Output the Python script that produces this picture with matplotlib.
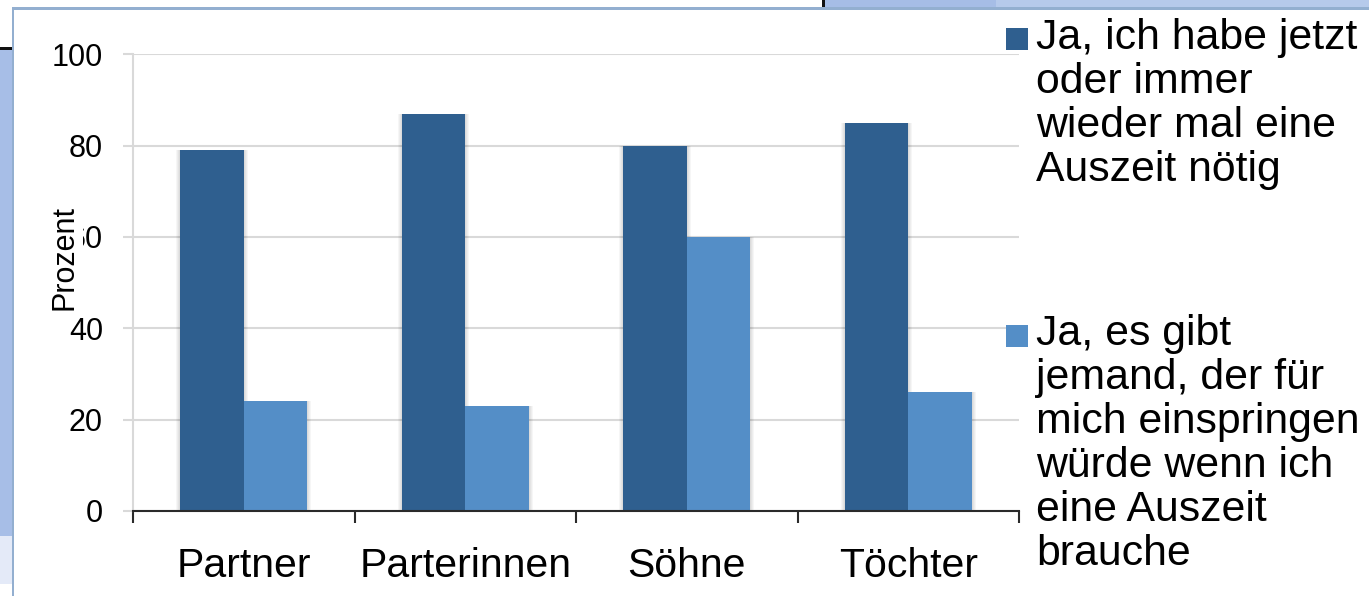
import matplotlib
matplotlib.use('Agg')
import matplotlib.pyplot as plt
from matplotlib.patches import Rectangle
import numpy as np

# Daten
categories = ['Partner', 'Parterinnen', 'Söhne', 'Töchter']
auszeit_noetig = [79, 87, 80, 85]
einspringen = [24, 23, 60, 26]
series_labels = ['Ja, ich habe jetzt\noder immer\nwieder mal eine\nAuszeit nötig',
                 'Ja, es gibt\njemand, der für\nmich einspringen\nwürde wenn ich\neine Auszeit\nbrauche']
yticks = [0, 20, 40, 60, 80, 100]

dark = '#2f5f8f'
light = '#548ec7'

W, H = 1369, 596
plt.rcParams['font.family'] = ['Liberation Sans', 'DejaVu Sans']

fig = plt.figure(figsize=(W / 100, H / 100), dpi=100)
fig.patch.set_facecolor('white')


def px_rect(x0, y0, x1, y1, color, z=0):
    # Rechteck in Pixelkoordinaten (y von oben)
    r = Rectangle((x0 / W, 1 - y1 / H), (x1 - x0) / W, (y1 - y0) / H,
                  transform=fig.transFigure, facecolor=color, edgecolor='none', zorder=z)
    fig.add_artist(r)


# Folienhintergrund am Rand
px_rect(0, 49, 12.5, 536, '#a7bee7')
px_rect(0, 536, 12.5, 584, '#e4eaf8')
px_rect(0, 47.5, 13, 49.5, '#111111')
px_rect(825, 0, 996, 8, '#a6bde6')
px_rect(996, 0, W, 8, '#b6caeb')
px_rect(822, 0, 824.5, 8, '#111111')
px_rect(12.5, 7.5, 14.5, H, '#93afd0')
px_rect(12.5, 7.5, W, 9.5, '#93afd0')

ax = fig.add_axes([133 / W, 1 - 511 / H, 886 / W, 456.7 / H])
x = np.arange(len(categories))
w = 0.287

# leichter Schatten hinter den Balken
for k in range(1, 5):
    ax.bar(x - w / 2, auszeit_noetig, width=w + k * 0.0045 * 2, color='black',
           alpha=0.035, zorder=1.5, linewidth=0)
    ax.bar(x + w / 2, einspringen, width=w + k * 0.0045 * 2, color='black',
           alpha=0.035, zorder=1.5, linewidth=0)

ax.bar(x - w / 2, auszeit_noetig, width=w, color=dark, zorder=2, linewidth=0)
ax.bar(x + w / 2, einspringen, width=w, color=light, zorder=2, linewidth=0)

ax.set_xlim(-0.5, len(categories) - 0.5)
ax.set_ylim(0, 100)
ax.set_yticks(yticks)
ax.set_yticklabels([str(v) for v in yticks])
ax.yaxis.grid(True, color='#d9d9d9', linewidth=1.5)
ax.set_axisbelow(True)

ax.spines['top'].set_visible(False)
ax.spines['right'].set_visible(False)
ax.spines['left'].set_color('#d9d9d9')
ax.spines['left'].set_linewidth(1.5)
ax.spines['bottom'].set_color('#2a2a2a')
ax.spines['bottom'].set_linewidth(1.5)

ax.tick_params(axis='y', length=7.2, width=1.5, color='#d9d9d9', pad=14.4,
               labelsize=22, labelcolor='black')
ax.set_xticks(x)
ax.set_xticklabels(categories)
ax.set_xticks(np.arange(len(categories) + 1) - 0.5, minor=True)
ax.tick_params(axis='x', which='major', length=0, pad=26, labelsize=29.5)
ax.tick_params(axis='x', which='minor', length=8.6, width=1.5, color='#2a2a2a')

ax.set_ylabel('Prozent', fontsize=22, va='center',
              bbox=dict(facecolor='white', edgecolor='none', pad=2.5))
ax.yaxis.set_label_coords(-0.0773, 0.555)

# Legende rechts
colors = [dark, light]
sq_top = [28, 325]
txt_top = [18, 314]
for lab, c, st, tt in zip(series_labels, colors, sq_top, txt_top):
    px_rect(1006, st, 1028, st + 22, c, z=3)
    fig.text(1036 / W, 1 - tt / H, lab, fontsize=30.8, va='top', ha='left',
             linespacing=1.13)

fig.savefig('out.png', dpi=100)
